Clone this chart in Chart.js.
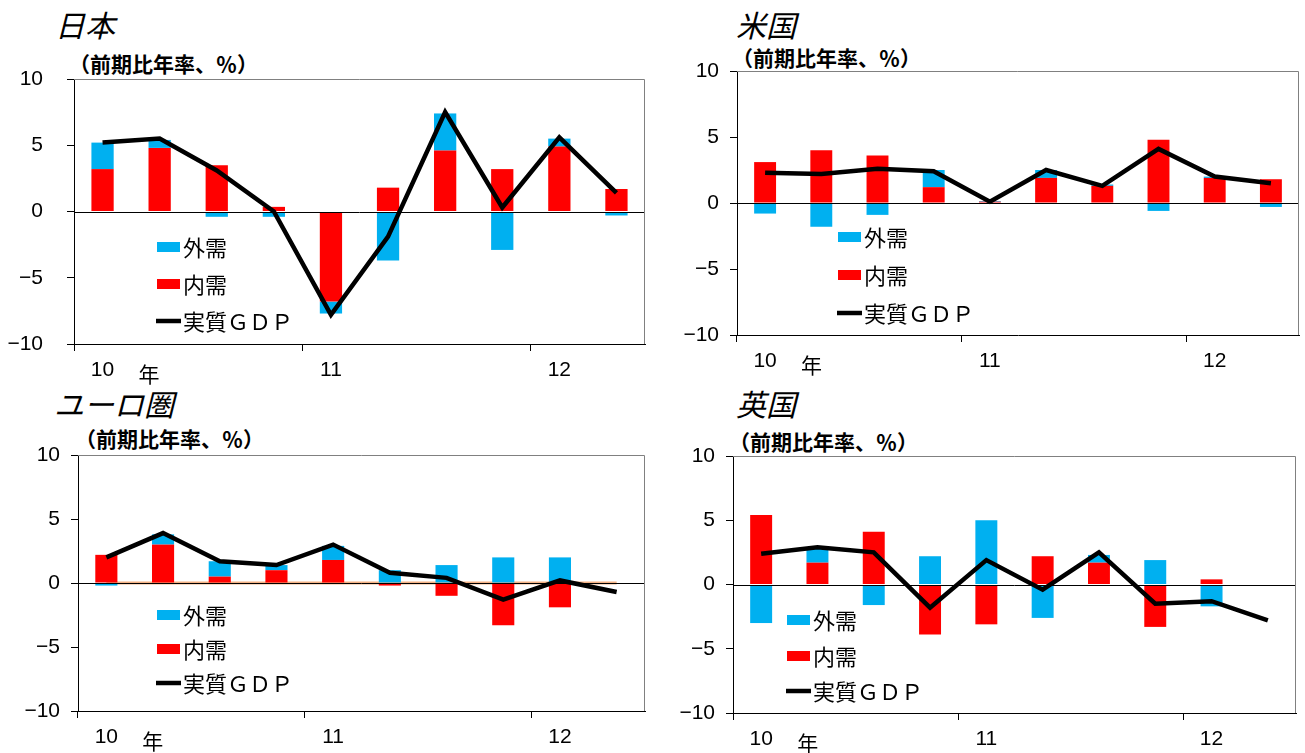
<!DOCTYPE html>
<html>
<head>
<meta charset="utf-8">
<script src="https://cdn.jsdelivr.net/npm/chart.js@4.4.1/dist/chart.umd.min.js"></script>
<style>
    body { margin: 0; background: #fff; width: 1305px; height: 753px; position: relative; overflow: hidden; font-family: "Noto Sans CJK JP", sans-serif; color: #000; }
    canvas { position: absolute; }
    .title { position: absolute; font-style: italic; font-size: 30px; line-height: 30px; white-space: nowrap; }
    .unit { position: absolute; font-size: 21px; line-height: 21px; font-weight: bold; white-space: nowrap; }
</style>
</head>
<body>
<div class="title" style="left:55px;top:9px">日本</div>
<div class="title" style="left:736px;top:9px">米国</div>
<div class="title" style="left:54px;top:388px">ユーロ圏</div>
<div class="title" style="left:736px;top:388px">英国</div>
<div class="unit" style="left:69px;top:53px">（前期比年率、％）</div>
<div class="unit" style="left:732px;top:47px">（前期比年率、％）</div>
<div class="unit" style="left:75px;top:428px">（前期比年率、％）</div>
<div class="unit" style="left:729px;top:431px">（前期比年率、％）</div>
<canvas id="jp"></canvas>
<canvas id="us"></canvas>
<canvas id="eu"></canvas>
<canvas id="uk"></canvas>
<script>
// quarters 2010Q1 .. 2012Q2, year label on each Q1
const quarters = ["10", "", "", "", "11", "", "", "", "12", ""];

// 日本
const jpDomestic = [3.2, 4.8, 3.5, 0.35, -6.8, 1.8, 4.6, 3.2, 4.9, 1.7];
const jpExternal = [2.0, 0.6, -0.4, -0.4, -0.9, -3.7, 2.8, -2.9, 0.6, -0.3];
const jpGdp = [5.2, 5.5, 3.1, 0.0, -7.8, -1.9, 7.5, 0.3, 5.6, 1.4];

// 米国
const usDomestic = [3.1, 4.0, 3.6, 1.2, 0.1, 1.9, 1.3, 4.8, 1.9, 1.8];
const usExternal = [-0.8, -1.8, -0.9, 1.3, 0.05, 0.6, 0.1, -0.6, 0.1, -0.3];
const usGdp = [2.3, 2.2, 2.6, 2.4, 0.1, 2.5, 1.3, 4.1, 2.0, 1.5];

// ユーロ圏
const euDomestic = [2.2, 3.0, 0.5, 1.0, 1.8, -0.2, -1.0, -3.3, -1.9, null];
const euExternal = [-0.2, 0.8, 1.2, 0.4, 1.1, 1.0, 1.4, 2.0, 2.0, null];
const euGdp = [2.0, 3.9, 1.7, 1.4, 3.0, 0.8, 0.4, -1.3, 0.2, -0.7];
const euOther = [0, 0, 0, 0, 0, 0, 0, 0, 0, 0];

// 英国
const ukDomestic = [5.4, 1.7, 4.1, -3.9, -3.1, 2.2, 1.7, -3.3, 0.4, null];
const ukExternal = [-3.0, 1.1, -1.6, 2.2, 5.0, -2.6, 0.6, 1.9, -1.7, null];
const ukGdp = [2.4, 2.9, 2.5, -1.8, 1.9, -0.4, 2.5, -1.5, -1.3, -2.8];

const BLUE = "#00B0F0";
const RED = "#FF0000";
const TICK_FONT = { family: "'Liberation Sans', Arial, sans-serif", size: 21 };

// zero line, plot frame, legend and the 年 mark
const decor = {
    id: "decor",
    beforeDatasetDraw(chart, args) {
        if (chart.data.datasets[args.index].label !== "実質ＧＤＰ") return;
        const { ctx, chartArea: a, scales } = chart;
        const y0 = Math.round(scales.y.getPixelForValue(0)) + 0.5;
        ctx.save();
        ctx.strokeStyle = "#000";
        ctx.lineWidth = 1;
        ctx.beginPath();
        ctx.moveTo(a.left, y0);
        ctx.lineTo(a.right, y0);
        ctx.stroke();
        ctx.restore();
    },
    afterDraw(chart, args, opts) {
        const { ctx, chartArea: a, scales } = chart;
        ctx.save();
        ctx.strokeStyle = "#808080";
        ctx.lineWidth = 1;
        ctx.beginPath();
        ctx.moveTo(a.left, a.top + 0.5);
        ctx.lineTo(a.right - 0.5, a.top + 0.5);
        ctx.lineTo(a.right - 0.5, a.bottom);
        ctx.stroke();

        ctx.fillStyle = "#000";
        ctx.textBaseline = "middle";
        ctx.textAlign = "left";
        ctx.font = "21px 'Noto Sans CJK JP'";
        ctx.fillText("年", scales.x.getPixelForValue(0) + 36, a.bottom + 30);

        const lx = opts.x - opts.ox;
        ctx.font = "22px 'Noto Sans CJK JP'";
        const items = ["外需", "内需", "実質ＧＤＰ"];
        items.forEach((name, i) => {
            const ds = chart.data.datasets.find((d) => d.label === name);
            const cy = opts.rows[i] - opts.oy;
            if (ds.type === "line") {
                ctx.strokeStyle = ds.borderColor;
                ctx.lineWidth = 4.5;
                ctx.beginPath();
                ctx.moveTo(lx - 1, cy);
                ctx.lineTo(lx + 24, cy);
                ctx.stroke();
            } else {
                ctx.fillStyle = ds.backgroundColor;
                ctx.fillRect(lx, cy - 5, 23, 10);
            }
            ctx.fillStyle = "#000";
            ctx.fillText(name, lx + 26, cy + 1);
        });
        ctx.restore();
    },
};

const panels = [
    { id: "jp", box: [0, 0, 652, 392], area: [74, 79, 645, 344], yPad: 24,
      legend: { x: 157, rows: [247, 284, 321] }, dom: jpDomestic, ext: jpExternal, gdp: jpGdp },
    { id: "us", box: [652, 0, 653, 392], area: [737, 71, 1299, 335], yPad: 11,
      legend: { x: 838, rows: [237, 275, 313] }, dom: usDomestic, ext: usExternal, gdp: usGdp },
    { id: "eu", box: [0, 392, 652, 361], area: [78, 455, 645, 711], yPad: 11,
      legend: { x: 157, rows: [615, 649, 683] }, dom: euDomestic, ext: euExternal, gdp: euGdp, other: euOther },
    { id: "uk", box: [652, 392, 653, 361], area: [733, 456, 1296, 713], yPad: 11,
      legend: { x: 787, rows: [620, 656, 691] }, dom: ukDomestic, ext: ukExternal, gdp: ukGdp },
];

const makePanel = (p) => {
    const [L, T, W, H] = p.box;
    const [al, at, ar, ab] = p.area;
    const canvas = document.getElementById(p.id);
    canvas.width = W;
    canvas.height = H;
    canvas.style.left = L + "px";
    canvas.style.top = T + "px";

    const datasets = [
        { type: "line", label: "実質ＧＤＰ", data: p.gdp, borderColor: "#000", borderWidth: 4.5,
          pointRadius: 0, tension: 0, borderJoinStyle: "miter", stack: "g", order: 0 },
        { type: "bar", label: "内需", data: p.dom, backgroundColor: RED, stack: "d", order: 1,
          barPercentage: 0.39, categoryPercentage: 1 },
        { type: "bar", label: "外需", data: p.ext, backgroundColor: BLUE, stack: "d", order: 2,
          barPercentage: 0.39, categoryPercentage: 1 },
    ];
    if (p.other) {
        datasets.push({ type: "line", label: "その他", data: p.other, borderColor: "#F4B183", borderWidth: 3,
            pointRadius: 0, stack: "z", order: 3 });
    }

    new Chart(canvas, {
        type: "bar",
        data: { labels: quarters, datasets: datasets },
        options: {
            responsive: false,
            animation: false,
            devicePixelRatio: 1,
            layout: { padding: { left: 0, top: at - T, right: L + W - ar, bottom: 0 } },
            plugins: {
                legend: { display: false },
                tooltip: { enabled: false },
                decor: { x: p.legend.x, rows: p.legend.rows, ox: L, oy: T },
            },
            scales: {
                x: {
                    stacked: true,
                    offset: true,
                    grid: {
                        offset: true,
                        drawOnChartArea: false,
                        tickLength: 7,
                        tickColor: (ctx) => (ctx.index % 4 === 0 && ctx.index < 10 ? "#000" : "rgba(0,0,0,0)"),
                    },
                    border: { color: "#000" },
                    ticks: { autoSkip: false, maxRotation: 0, padding: 7, color: "#000", font: TICK_FONT },
                    afterFit: (scale) => { scale.height = T + H - ab; },
                },
                y: {
                    stacked: true,
                    min: -10,
                    max: 10,
                    grid: { drawOnChartArea: false, tickLength: 7, tickColor: "#000" },
                    border: { color: "#000" },
                    ticks: {
                        stepSize: 5,
                        padding: p.yPad,
                        color: "#000",
                        font: TICK_FONT,
                        callback: (v) => (v < 0 ? "\u2212" + Math.abs(v) : String(v)),
                    },
                    afterFit: (scale) => { scale.width = al - L; },
                },
            },
        },
        plugins: [decor],
    });
};

panels.forEach(makePanel);
</script>
</body>
</html>
